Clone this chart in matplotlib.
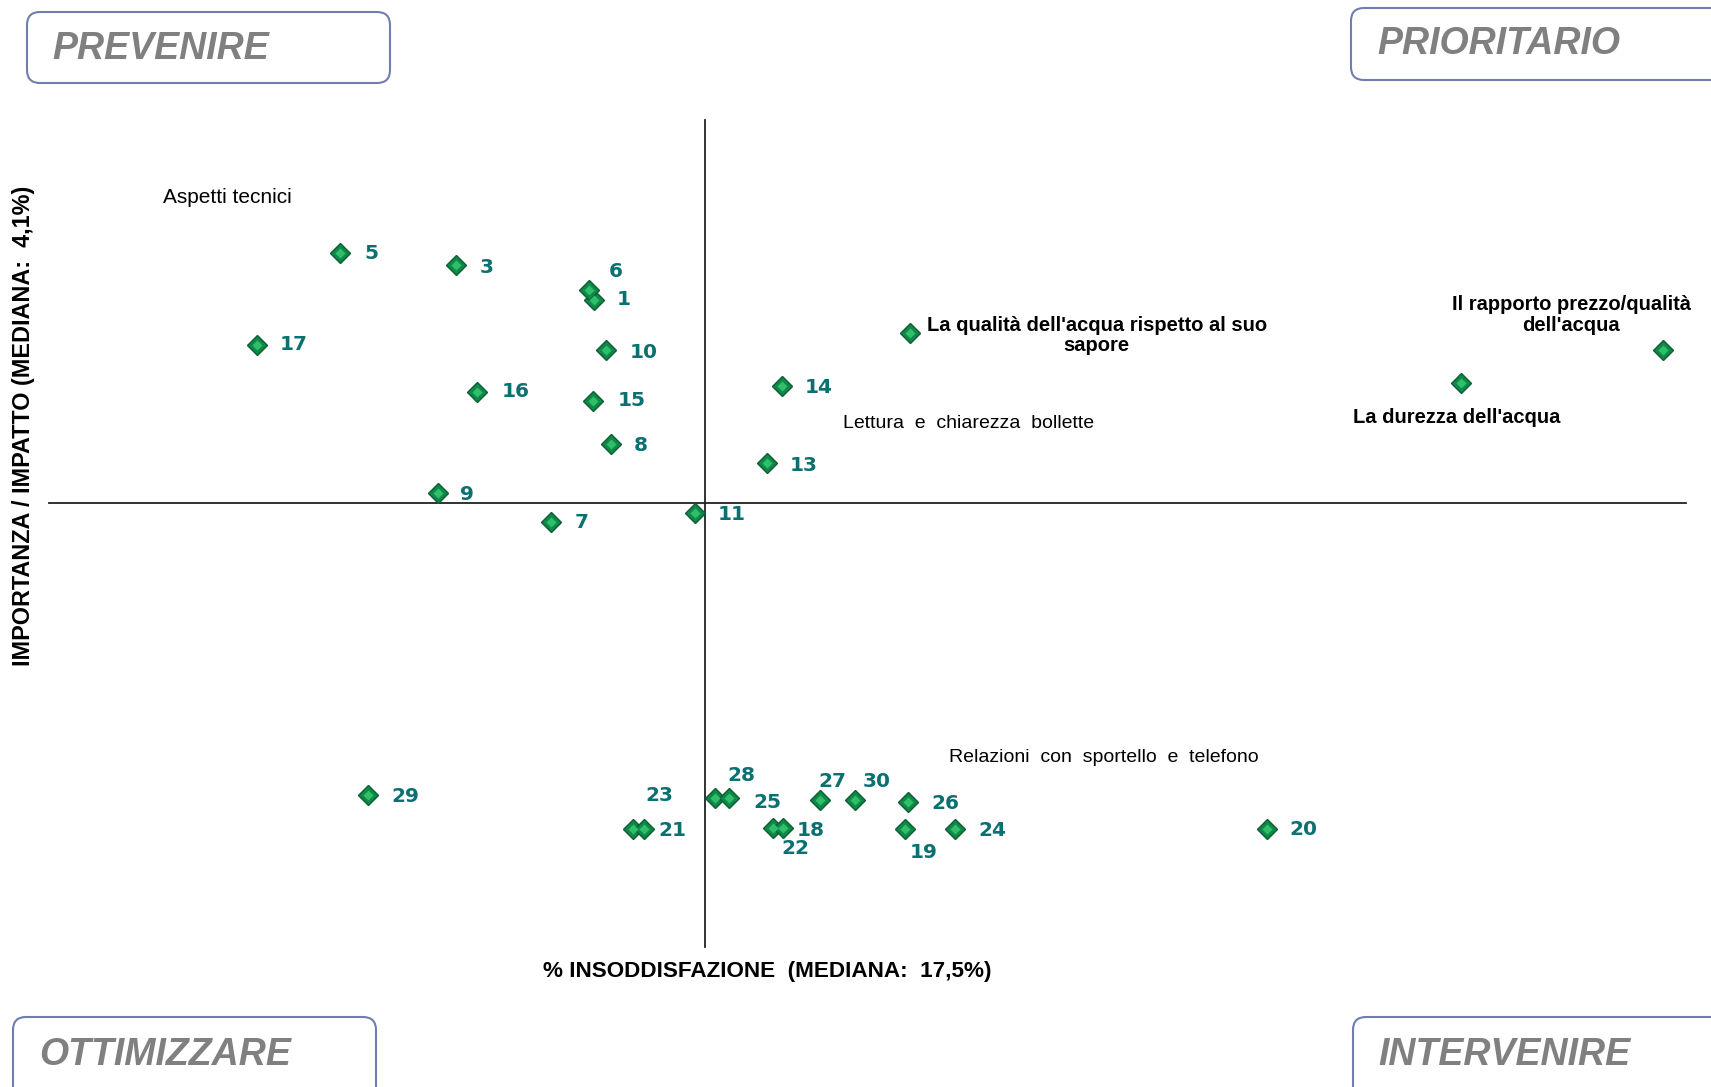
import matplotlib.pyplot as plt
from matplotlib.patches import FancyBboxPatch
from matplotlib.transforms import IdentityTransform

# numbered items: % dissatisfaction vs importance/impact
codes = ['1', '3', '5', '6', '7', '8', '9', '10', '11', '13', '14', '15', '16', '17',
         '29', '23', '21', '28', '25', '22', '18', '27', '30', '26', '19', '24', '20']
dissat = [14.54, 10.86, 7.76, 14.41, 13.39, 14.99, 10.38, 14.86, 17.23, 19.15, 19.55, 14.51, 11.42, 5.55,
          8.51, 15.58, 15.87, 17.77, 18.14, 19.31, 19.58, 20.57, 21.50, 22.92, 22.84, 24.17, 32.49]
impact = [5.95, 6.26, 6.37, 6.04, 3.93, 4.64, 4.19, 5.49, 4.01, 4.46, 5.16, 5.03, 5.11, 5.54,
          1.45, 1.14, 1.14, 1.42, 1.42, 1.15, 1.15, 1.40, 1.40, 1.38, 1.14, 1.14, 1.14]

# items shown with their full description
named = ["La qualità dell'acqua rispetto al suo\nsapore",
         "Il rapporto prezzo/qualità\ndell'acqua",
         "La durezza dell'acqua"]
named_x = [22.96, 43.06, 37.67]
named_y = [5.65, 5.49, 5.19]

med_x = 17.5
med_y = 4.1

# label offsets in pixels (right, down)
num_off = {'5': (32, 0), '3': (31, 2), '6': (27, -18), '1': (30, 0), '17': (37, 0),
           '10': (38, 2), '16': (39, 0), '15': (39, 0), '8': (30, 2), '9': (29, 1),
           '7': (31, 1), '11': (37, 2), '14': (37, 1), '13': (37, 2), '29': (37, 2),
           '23': (26, -33), '21': (28, 2), '28': (26, -22), '25': (38, 5), '22': (23, 21),
           '18': (28, 3), '27': (12, -19), '30': (22, -19), '26': (37, 1), '19': (18, 24),
           '24': (37, 2), '20': (36, 1)}
named_off = [(187, 3), (-92, -35), (-4, 34)]

W, H = 1711, 1087
fig = plt.figure(figsize=(W / 100, H / 100), dpi=100)
ax = fig.add_axes([0, 0, 1, 1])
ax.set_xlim(-1.307, 44.336)
ax.set_ylim(-1.209, 8.673)
ax.axis('off')

# quadrant lines at the medians
ax.plot([med_x, med_x], [0.06, 7.58], color='#222222', lw=1.3, zorder=1)
ax.plot([0, 43.67], [med_y, med_y], color='#222222', lw=1.3, zorder=1)

# diamonds with a lighter inner face for a bevelled look
mk = dict(marker='D', ms=10, mfc='#10884a', mec='#0b5e2e', mew=1.0, ls='none', zorder=3)
hi = dict(marker='D', ms=5, mfc='#2fbf68', mec='none', ls='none', zorder=3.5)
ax.plot(dissat, impact, **mk)
ax.plot(dissat, impact, **hi)
ax.plot(named_x, named_y, **mk)
ax.plot(named_x, named_y, **hi)

for c, x, y in zip(codes, dissat, impact):
    dx, dy = num_off[c]
    ax.annotate(c, (x, y), xytext=(dx * 0.72, -dy * 0.72), textcoords='offset points',
                ha='center', va='center', fontsize=14.5, fontweight='heavy',
                color='#0a7070', family='DejaVu Sans', zorder=4)

for t, x, y, (dx, dy) in zip(named, named_x, named_y, named_off):
    ax.annotate(t, (x, y), xytext=(dx * 0.72, -dy * 0.72), textcoords='offset points',
                ha='center', va='center', multialignment='center', fontsize=14.5,
                fontweight='bold', color='black', linespacing=1.1,
                family='Liberation Sans', zorder=4)

# group captions
groups = [("Aspetti tecnici", 227, 198, 15),
          ("Lettura  e  chiarezza  bollette", 969, 424, 14),
          ("Relazioni  con  sportello  e  telefono", 1104, 757, 14)]
for t, px, py, fs in groups:
    fig.text(px / W, 1 - py / H, t, ha='center', va='center', fontsize=fs,
             family='Liberation Sans', color='black')

fig.text(767 / W, 1 - 971 / H, "% INSODDISFAZIONE  (MEDIANA:  17,5%)", ha='center', va='center',
         fontsize=16.2, fontweight='bold', family='Liberation Sans')
fig.text(24 / W, 1 - 426 / H, "IMPORTANZA / IMPATTO (MEDIANA:  4,1%)", ha='center', va='center',
         rotation=90, fontsize=16.8, fontweight='bold', family='Liberation Sans')

# quadrant titles in rounded boxes (pixel coords, top-left origin)
boxes = [("PREVENIRE", 27, 12, 363, 71, 52, 49),
         ("PRIORITARIO", 1351, 8, 400, 72, 1377, 44),
         ("OTTIMIZZARE", 13, 1017, 363, 100, 39, 1055),
         ("INTERVENIRE", 1353, 1017, 400, 100, 1378, 1055)]
for t, bx, by, bw, bh, tx, ty in boxes:
    p = FancyBboxPatch((bx, H - by - bh), bw, bh, boxstyle="round,pad=0,rounding_size=13",
                       transform=IdentityTransform(), fc='white', ec='#6f7eae', lw=1.5,
                       clip_on=False)
    fig.patches.append(p)
    fig.text(tx / W, 1 - ty / H, t, ha='left', va='center', fontsize=27, fontweight='bold',
             style='italic', color='#808080', family='Liberation Sans')

fig.savefig('out.png', dpi=100)
